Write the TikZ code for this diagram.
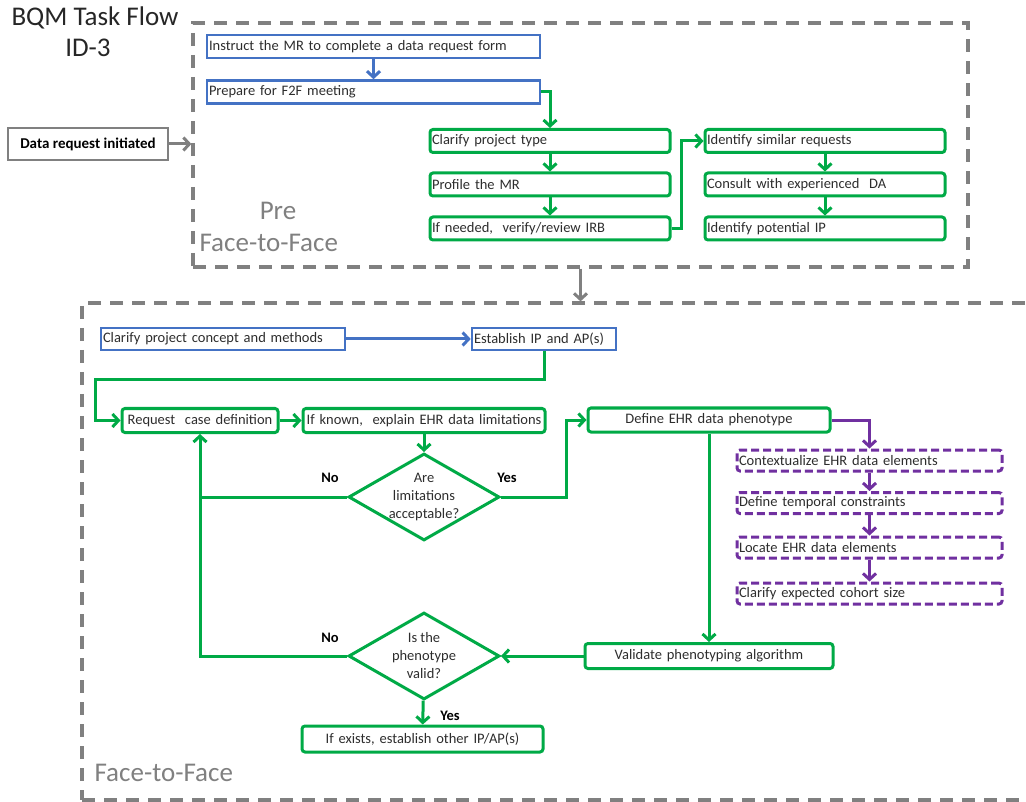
\documentclass[tikz,border=0pt]{standalone}
\usepackage{fontspec}
\setmainfont{Carlito}
\usetikzlibrary{shapes.geometric,arrows.meta,positioning}
\definecolor{bqmblue}{RGB}{68,114,196}
\definecolor{bqmgreen}{RGB}{0,170,70}
\definecolor{bqmpurple}{RGB}{112,48,160}
\definecolor{bqmgray}{RGB}{128,128,128}
\definecolor{bqmtext}{RGB}{45,45,45}

\begin{document}
\begin{tikzpicture}[x=1pt,y=-1pt,
  font=\fontsize{14.5}{16}\selectfont, text=bqmtext,
  task/.style={draw, line width=2.6pt, minimum height=23pt, inner sep=2pt, align=left},
  blue task/.style={task, draw=bqmblue, text width=#1},
  green task/.style={task, draw=bqmgreen, line width=3pt, rounded corners=3pt, text width=#1},
  purple task/.style={task, draw=bqmpurple, line width=3pt, rounded corners=3pt,
    dash pattern=on 8pt off 4pt, minimum height=21pt, text width=#1},
  decision/.style={diamond, draw=bqmgreen, line width=3pt, aspect=1.74, inner sep=-8pt,
    minimum width=151pt, minimum height=87pt, align=center, font=\fontsize{14.5}{18}\selectfont},
  phase/.style={draw=bqmgray, line width=3.2pt, dash pattern=on 13pt off 9pt, inner sep=0pt},
  phase label/.style={text=bqmgray, font=\fontsize{27}{30}\selectfont},
  answer/.style={text=black, font=\bfseries\fontsize{14.5}{16}\selectfont},
  flow/.style={-{Straight Barb[length=6pt,width=13pt]}, line width=3pt, draw=bqmgreen},
  bflow/.style={flow, draw=bqmblue},
  pflow/.style={flow, draw=bqmpurple},
  gflow/.style={flow, draw=bqmgray}]

\useasboundingbox (0,0) rectangle (1026,802);
\clip (0,0) rectangle (1026,802);

\node[text=black!85, font=\fontsize{27}{30}\selectfont] (title) at (95,18) {BQM Task Flow};
\node[text=black!85, font=\fontsize{27}{30}\selectfont] (id) at (88,48) {ID-3};

\node[phase, minimum width=775pt, minimum height=244pt] (pre) at (580.5,145) {};
\node[phase, minimum width=960pt, minimum height=497pt] (f2f) at (562,551.5) {};
\node[phase label] (prelbl) at (278,211) {Pre};
\node[phase label, anchor=west] (prelbl2) at (196,243) {Face-to-Face};
\node[phase label, anchor=west] (f2flbl) at (91,773) {Face-to-Face};

\node[draw=bqmgray, line width=2.6pt, minimum width=160pt, minimum height=32pt,
  text=black, font=\bfseries\fontsize{15}{17}\selectfont] (init) at (88,144) {Data request initiated};

\node[blue task=329pt] (instr) at (373.5,46.5) {Instruct the MR to complete a data request form};
\node[blue task=329pt] (prep) at (373.5,92) {Prepare for F2F meeting};
\node[green task=236pt] (ptype) at (550,141) {Clarify project type};
\node[green task=236pt] (prof) at (550,184.5) {Profile the MR};
\node[green task=236pt] (irb) at (550,228.5) {If needed,\ \ verify/review IRB};
\node[green task=236pt] (simr) at (825,141) {Identify similar requests};
\node[green task=236pt] (cons) at (825,184.5) {Consult with experienced\ \ DA};
\node[green task=236pt] (pip) at (825,228.5) {Identify potential IP};

\node[blue task=240pt, minimum height=22pt] (concept) at (223,339) {Clarify project concept and methods};
\node[blue task=140pt, minimum height=22pt] (estab) at (544,339) {Establish IP and AP(s)};
\node[green task=152pt, align=center, minimum height=24pt] (casedef) at (200,420.5) {Request\ \ case definition};
\node[green task=238pt, align=center, minimum height=24pt] (limits) at (424,420.5) {If known,\ \ explain EHR data limitations};
\node[decision] (accept) at (424,497) {Are\\limitations\\acceptable?};
\node[green task=238pt, align=center, minimum height=24pt] (pheno) at (709,420) {Define EHR data phenotype};
\node[purple task=261pt] (ctx) at (869.5,460.5) {Contextualize EHR data elements};
\node[purple task=261pt] (temp) at (869.5,503) {Define temporal constraints};
\node[purple task=261pt] (loc) at (869.5,547.5) {Locate EHR data elements};
\node[purple task=261pt] (cohort) at (869.5,593.5) {Clarify expected cohort size};
\node[green task=244pt, align=center, minimum height=25pt] (valid) at (709,656) {Validate phenotyping algorithm};
\node[decision] (isvalid) at (424,656) {Is the\\phenotype\\valid?};
\node[green task=237pt, align=center, minimum height=26pt] (other) at (422.5,739) {If exists, establish other IP/AP(s)};

\node[answer] (no1) at (330,478) {No};
\node[answer] (yes1) at (507,478) {Yes};
\node[answer] (no2) at (330,638) {No};
\node[answer] (yes2) at (450,716) {Yes};

\draw[gflow] (init.east) -- (init.east -| pre.west);
\draw[gflow] (pre.south) -- (pre.south |- f2f.north);

\draw[bflow] (instr) -- (prep);
\draw[flow] (prep.east) -| (ptype.north);
\draw[flow] (ptype) -- (prof);
\draw[flow] (prof) -- (irb);
\draw[flow] (irb.east) -- ++(10,0) |- (simr.west);
\draw[flow] (simr) -- (cons);
\draw[flow] (cons) -- (pip);

\draw[bflow] (concept) -- (estab);
\draw[flow] (estab.south) -- ++(0,28) -| ([xshift=-25pt]casedef.west) -- (casedef.west);
\draw[flow] (casedef) -- (limits);
\draw[flow] (limits) -- (accept);
\draw[line width=3pt, draw=bqmgreen] (accept.west) -- (accept.west -| casedef.south);
\draw[flow] (accept.east) -- ++(65,0) |- (pheno.west);
\draw[pflow] (pheno.east) -| (ctx.north);
\draw[pflow] (ctx) -- (temp);
\draw[pflow] (temp) -- (loc);
\draw[pflow] (loc) -- (cohort);
\draw[flow] (pheno) -- (valid);
\draw[flow] (valid) -- (isvalid);
\draw[flow] (isvalid.west) -| (casedef.south);
\draw[flow] (isvalid) -- (other);
\end{tikzpicture}
\end{document}
